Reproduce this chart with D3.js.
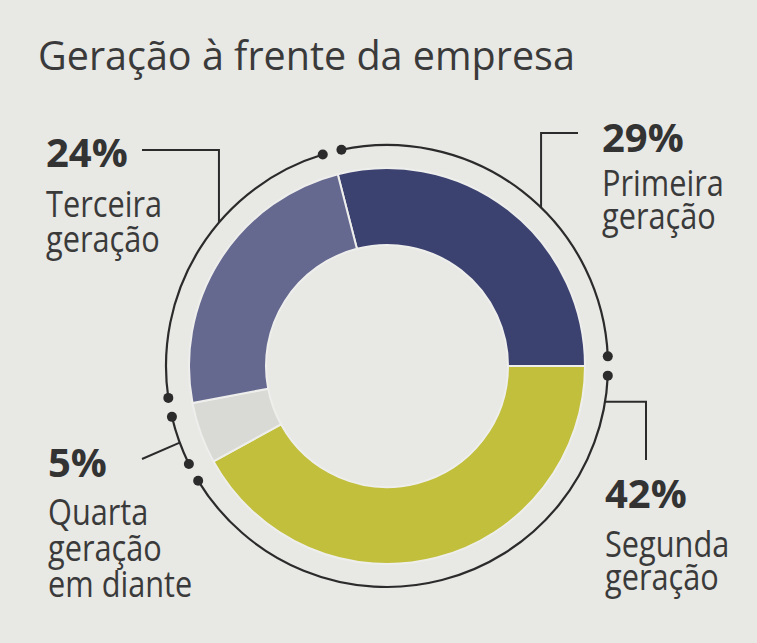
<!DOCTYPE html>
<html>
<head>
<meta charset="utf-8">
<script src="https://cdn.jsdelivr.net/npm/d3@7/dist/d3.min.js"></script>
<style>
  html, body { margin: 0; padding: 0; background: #e8e8e5; }
  svg { display: block; }
</style>
</head>
<body>
<script>
// ---- data ----
const title = "Geração à frente da empresa";
const categories = ["Primeira geração", "Segunda geração", "Quarta geração em diante", "Terceira geração"];
const values = [29, 42, 5, 24];
const labelLines = [["Primeira", "geração"], ["Segunda", "geração"], ["Quarta", "geração", "em diante"], ["Terceira", "geração"]];
const colors = ["#3b4270", "#c1bf3b", "#d9d9d5", "#65688f"];

// ---- layout ----
const W = 757, H = 643;
const cx = 387, cy = 366;
const rOuter = 198, rInner = 121, rRing = 221;
const inset = 2.5 * Math.PI / 180;
const deg = Math.PI / 180;
const lineScale = 0.83;

const labelLayout = [
  { x: 602, pctY: 152, lineY: [196, 229], anchorDeg: 44.2, leader: (a) => `M${a[0]},${a[1]}V133H578` },
  { x: 605, pctY: 508, lineY: [557, 590], anchorDeg: 99.3, leader: (a) => `M${a[0]},${a[1]}H646V460` },
  { x: 48,  pctY: 477, lineY: [525, 561, 597], anchorDeg: 249.7, leader: (a) => `M142,459L${a[0]},${a[1]}` },
  { x: 46,  pctY: 167, lineY: [217, 252], anchorDeg: 310.5, leader: (a) => `M142,150H${a[0]}V${a[1]}` }
];

const svg = d3.select("body").append("svg").attr("width", W).attr("height", H);
svg.append("rect").attr("width", W).attr("height", H).attr("fill", "#e8e8e5");

svg.append("text")
  .attr("x", 38).attr("y", 70)
  .attr("font-family", "'Open Sans', sans-serif")
  .attr("font-size", 39.5)
  .attr("fill", "#3a3a3a")
  .text(title);

const startA = Math.PI / 2 - values[0] / 100 * 2 * Math.PI;
const pie = d3.pie().sort(null).value(d => d).startAngle(startA).endAngle(startA + 2 * Math.PI);
const arcs = pie(values);

const g = svg.append("g").attr("transform", `translate(${cx},${cy})`);
const arc = d3.arc().innerRadius(rInner).outerRadius(rOuter);

g.selectAll("path.slice").data(arcs).join("path")
  .attr("class", "slice")
  .attr("d", arc)
  .attr("fill", (d, i) => colors[i])
  .attr("stroke", "#eeeeec")
  .attr("stroke-width", 2);

// outer ring arcs with dots
const ringArc = d3.arc().innerRadius(rRing).outerRadius(rRing);
const ringData = arcs.map(d => ({ startAngle: d.startAngle + inset, endAngle: d.endAngle - inset }));
g.selectAll("path.ring").data(ringData).join("path")
  .attr("class", "ring")
  .attr("d", ringArc)
  .attr("fill", "none")
  .attr("stroke", "#2b2b2b")
  .attr("stroke-width", 2.2);

const dots = [];
ringData.forEach(d => { dots.push(d.startAngle, d.endAngle); });
g.selectAll("circle.dot").data(dots).join("circle")
  .attr("class", "dot")
  .attr("cx", a => rRing * Math.sin(a))
  .attr("cy", a => -rRing * Math.cos(a))
  .attr("r", 5)
  .attr("fill", "#2b2b2b");

// leaders
labelLayout.forEach((L) => {
  const a = L.anchorDeg * deg;
  const p = [cx + rRing * Math.sin(a), cy - rRing * Math.cos(a)];
  svg.append("path").attr("d", L.leader(p))
    .attr("fill", "none").attr("stroke", "#2b2b2b").attr("stroke-width", 2);
});

// labels
labelLayout.forEach((L, i) => {
  svg.append("text")
    .attr("x", L.x).attr("y", L.pctY)
    .attr("font-family", "'Open Sans', sans-serif")
    .attr("font-weight", 700)
    .attr("font-size", 40)
    .attr("fill", "#333")
    .text(values[i] + "%");
  const t = svg.append("g").attr("transform", `translate(${L.x},0) scale(${lineScale},1)`)
    .append("text")
    .attr("font-family", "'Open Sans', sans-serif")
    .attr("font-size", 37)
    .attr("fill", "#3a3a3a");
  labelLines[i].forEach((s, j) => {
    t.append("tspan").attr("x", 0).attr("y", L.lineY[j]).text(s);
  });
});
</script>
</body>
</html>
